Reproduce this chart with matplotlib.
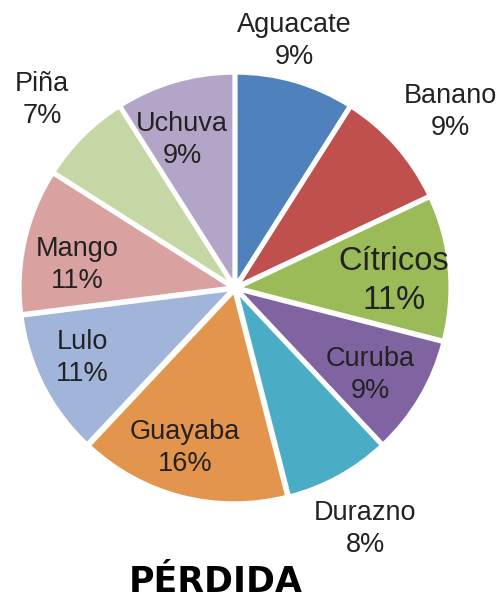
#Pie chart of fruit losses (PÉRDIDA).
import numpy as np
import matplotlib.pyplot as plt

frutas = ['Aguacate', 'Banano', 'Cítricos', 'Curuba', 'Durazno',
          'Guayaba', 'Lulo', 'Mango', 'Piña', 'Uchuva']
perdida = [9, 9, 11, 9, 8, 16, 11, 11, 7, 9]
colores = ['#4F81BD', '#C0504D', '#9BBB59', '#8064A2', '#4BACC6',
           '#E3954E', '#A1B5DA', '#D9A19F', '#C4D7A4', '#B3A5C8']
# label placement: radial distance (pie radii) and angle nudge (deg)
dist = [1.20, 1.31, 0.75, 0.76, 1.29, 0.79, 0.79, 0.75, 1.27, 0.74]
nudge = [2.6, -2.1, -2.9, -2.2, -0.4, -3.0, -2.4, 4.3, 0.8, 3.5]

def main():
    plt.rcParams['font.family'] = ['Liberation Sans', 'DejaVu Sans']
    fig = plt.figure(figsize=(4.98, 6.05), dpi=100)
    ax = fig.add_axes([0, 0, 1, 1])

    wedges, _ = ax.pie(perdida, colors=colores, startangle=90, counterclock=False,
                       explode=[0.015] * len(perdida),
                       wedgeprops=dict(edgecolor='white', linewidth=2.5))

    u = 212.0
    cx, cy = 235.0, 288.0
    ax.set_xlim(-cx / u, (498 - cx) / u)
    ax.set_ylim((cy - 605) / u, cy / u)
    ax.set_aspect('auto')
    ax.axis('off')

    for w, nom, v, d, n in zip(wedges, frutas, perdida, dist, nudge):
        ang = np.deg2rad((w.theta1 + w.theta2) / 2 + n)
        size = 23.5 if nom == 'Cítricos' else 19.5
        ax.text(d * np.cos(ang), d * np.sin(ang), f"{nom}\n{v}%",
                ha='center', va='center', fontsize=size, color='#222222',
                linespacing=1.3)

    fig.text(216 / 498, 1 - 582 / 605, 'PÉRDIDA', ha='center', va='center',
             fontsize=25, fontweight='bold', family='DejaVu Sans', color='black')
    fig.savefig('out.png', dpi=100)

if __name__ == "__main__":
    main()
